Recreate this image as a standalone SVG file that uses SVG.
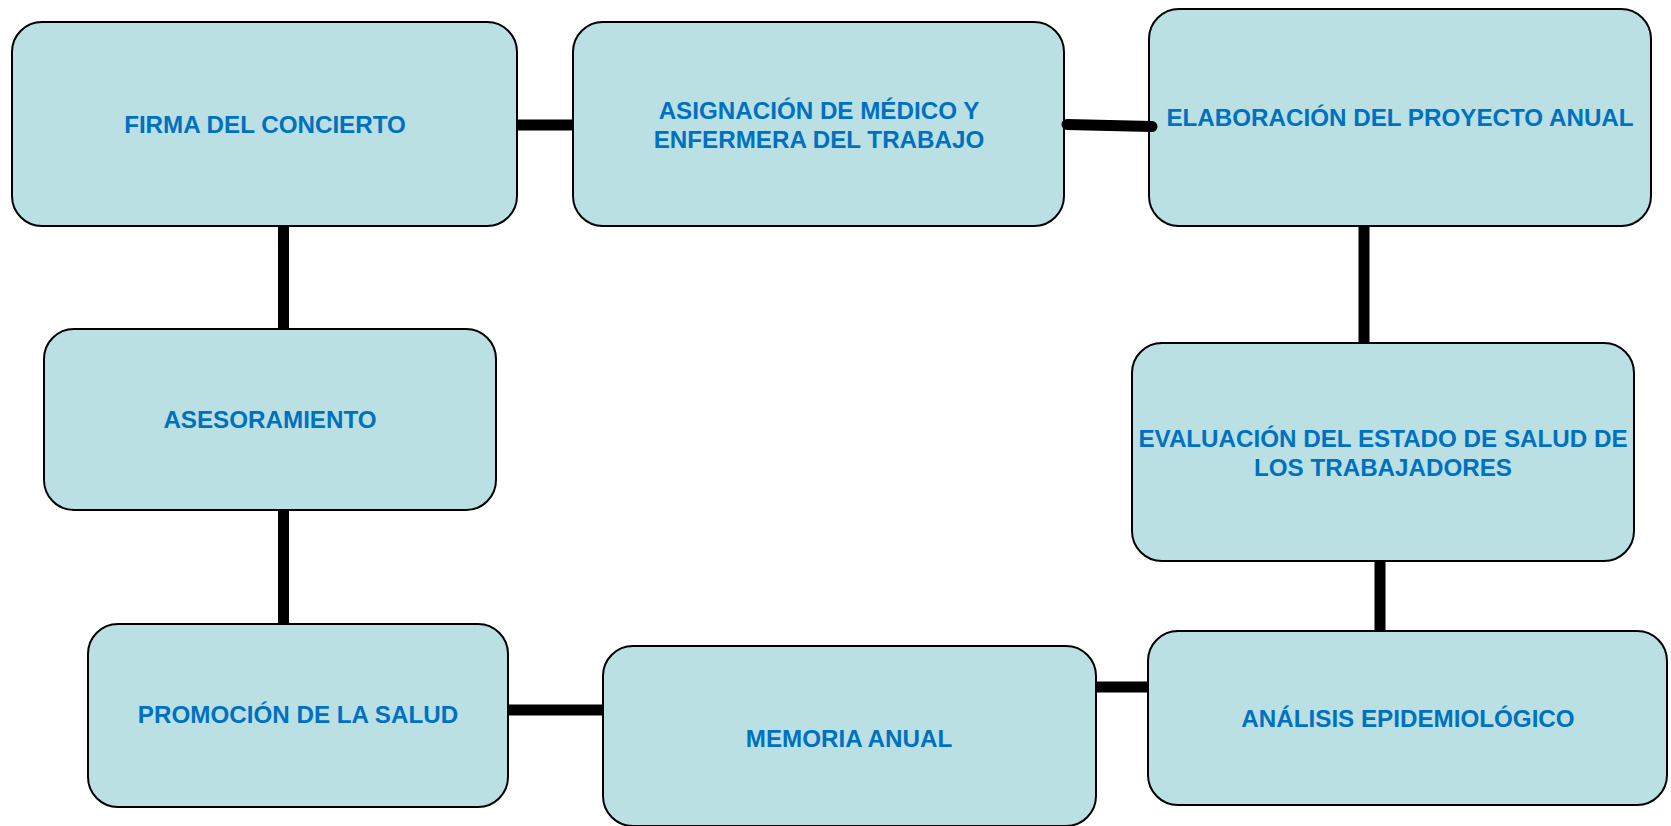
<svg xmlns="http://www.w3.org/2000/svg" width="1671" height="826" viewBox="0 0 1671 826">
<style>
.box{fill:#BAE0E3;stroke:#000;stroke-width:2}
.lbl{font-family:"Liberation Sans",Arial,sans-serif;font-weight:bold;font-size:24.2px;fill:#0070C0;text-anchor:middle}
.con{stroke:#000;stroke-width:11;fill:none}
</style>
<rect width="1671" height="826" fill="#fff"/>
<g id="nodes">
<g id="n-firma"><rect class="box" x="12" y="22" width="505" height="204" rx="30"/><text class="lbl" x="265" y="133">FIRMA DEL CONCIERTO</text></g>
<g id="n-asignacion"><rect class="box" x="573" y="22" width="491" height="204" rx="30"/><text class="lbl" x="819" y="119">ASIGNACIÓN DE MÉDICO Y</text><text class="lbl" x="819" y="148">ENFERMERA DEL TRABAJO</text></g>
<g id="n-elaboracion"><rect class="box" x="1149" y="9" width="502" height="217" rx="30"/><text class="lbl" x="1400" y="126">ELABORACIÓN DEL PROYECTO ANUAL</text></g>
<g id="n-asesoramiento"><rect class="box" x="44" y="329" width="452" height="181" rx="30"/><text class="lbl" x="270" y="428">ASESORAMIENTO</text></g>
<g id="n-evaluacion"><rect class="box" x="1132" y="343" width="502" height="218" rx="30"/><text class="lbl" x="1383" y="447">EVALUACIÓN DEL ESTADO DE SALUD DE</text><text class="lbl" x="1383" y="476">LOS TRABAJADORES</text></g>
<g id="n-promocion"><rect class="box" x="88" y="624" width="420" height="183" rx="30"/><text class="lbl" x="298" y="723">PROMOCIÓN DE LA SALUD</text></g>
<g id="n-memoria"><rect class="box" x="603" y="646" width="493" height="180" rx="30"/><text class="lbl" x="849" y="747">MEMORIA ANUAL</text></g>
<g id="n-analisis"><rect class="box" x="1148" y="631" width="519" height="174" rx="30"/><text class="lbl" x="1408" y="727">ANÁLISIS EPIDEMIOLÓGICO</text></g>
</g>
<g id="connectors">
<line class="con" x1="517" y1="125" x2="573" y2="125"/>
<line class="con" x1="1067" y1="124.5" x2="1152" y2="126.5" stroke-linecap="round"/>
<line class="con" x1="283.5" y1="226" x2="283.5" y2="329"/>
<line class="con" x1="283.5" y1="510" x2="283.5" y2="624"/>
<line class="con" x1="508" y1="710" x2="603" y2="710"/>
<line class="con" x1="1096" y1="687" x2="1148" y2="687"/>
<line class="con" x1="1364" y1="226" x2="1364" y2="343"/>
<line class="con" x1="1380" y1="561" x2="1380" y2="631"/>
</g>
</svg>
